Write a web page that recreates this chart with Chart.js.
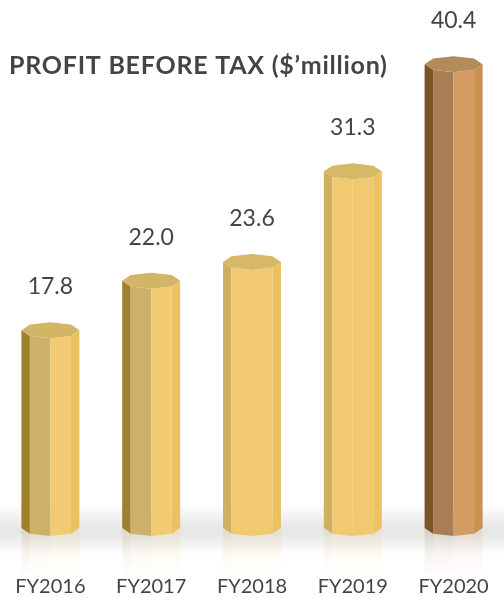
<!DOCTYPE html>
<html>
<head>
<meta charset="utf-8">
<script src="https://cdn.jsdelivr.net/npm/chart.js@4.4.1/dist/chart.umd.min.js"></script>
<style>
    html, body { margin: 0; padding: 0; background: #ffffff; }
    #grafico { display: block; }
</style>
</head>
<body>
<canvas id="grafico" width="504" height="598"></canvas>
<script>
// ========== DATOS ==========
const categorias = ['FY2016', 'FY2017', 'FY2018', 'FY2019', 'FY2020'];
const valores = [17.8, 22.0, 23.6, 31.3, 40.4];
const etiquetasValor = ['17.8', '22.0', '23.6', '31.3', '40.4'];
const titulo = 'PROFIT BEFORE TAX ($\u2019million)';

// ========== ESTILOS ==========
// caras visibles del prisma octogonal (izquierda -> derecha) y la tapa
const carasOro = ['#a0802f', '#cdb06a', '#f2ca72', '#ebc25f'];
const carasOroCentro = ['#cdb064', '#f1c971', '#f1c971', '#eac261'];
const carasCobre = ['#7b5329', '#a97e52', '#d49c62', '#c9914f'];
const caras = [carasOro, carasOro, carasOroCentro, carasOroCentro, carasCobre];
const tapas = ['#d3b566', '#d3b566', '#d6b866', '#d6b866', '#b18b59'];
const COLOR_TEXTO = '#444444';
const RY = 8;

function rgba(hex, a) {
    const n = parseInt(hex.slice(1), 16);
    return 'rgba(' + (n >> 16) + ',' + ((n >> 8) & 255) + ',' + (n & 255) + ',' + a + ')';
}

function punto(cx, cy, r, grados) {
    const t = grados * Math.PI / 180;
    return [cx + r * Math.cos(t), cy + RY * Math.sin(t)];
}

function poligono(ctx, pts, fill) {
    ctx.beginPath();
    ctx.moveTo(pts[0][0], pts[0][1]);
    for (let i = 1; i < pts.length; i++) ctx.lineTo(pts[i][0], pts[i][1]);
    ctx.closePath();
    ctx.fillStyle = fill;
    ctx.fill();
}

// ========== PLUGIN: CILINDROS 3D ==========
const cilindros = {
    id: 'cilindros',
    beforeDatasetsDraw(chart) {
        const ctx = chart.ctx;
        const base = chart.getDatasetMeta(0).data[0].base;
        // sombra difusa bajo las columnas
        ctx.save();
        const g = ctx.createLinearGradient(0, base - 24, 0, base + 26);
        g.addColorStop(0, 'rgba(0,0,0,0)');
        g.addColorStop(0.55, 'rgba(60,60,50,0.13)');
        g.addColorStop(1, 'rgba(0,0,0,0)');
        ctx.fillStyle = g;
        ctx.fillRect(0, base - 24, chart.width, 50);
        ctx.restore();
    },
    afterDatasetsDraw(chart) {
        const ctx = chart.ctx;
        const meta = chart.getDatasetMeta(0);
        ctx.save();
        meta.data.forEach(function(bar, i) {
            const cx = bar.x;
            const r = bar.width / 2;
            const top = bar.y;
            const base = bar.base;
            const col = caras[i];

            // reflejo
            for (let k = 0; k < 4; k++) {
                const a0 = 180 - 45 * k;
                const a1 = a0 - 45;
                const p0 = punto(cx, base, r, a0);
                const p1 = punto(cx, base, r, a1);
                const gr = ctx.createLinearGradient(0, base + 4, 0, base + 50);
                gr.addColorStop(0, rgba(col[k], 0.14));
                gr.addColorStop(1, rgba(col[k], 0));
                poligono(ctx, [p0, p1, [p1[0], p1[1] + 48], [p0[0], p0[1] + 48]], gr);
            }

            // caras
            for (let k = 0; k < 4; k++) {
                const a0 = 180 - 45 * k;
                const a1 = a0 - 45;
                poligono(ctx, [
                    punto(cx, top, r, a0),
                    punto(cx, top, r, a1),
                    punto(cx, base, r, a1),
                    punto(cx, base, r, a0)
                ], col[k]);
            }

            // tapa
            const tapa = [];
            for (let k = 0; k < 8; k++) tapa.push(punto(cx, top, r, k * 45));
            poligono(ctx, tapa, tapas[i]);

            ctx.fillStyle = COLOR_TEXTO;
            ctx.textAlign = 'center';
            ctx.textBaseline = 'alphabetic';

            // valor
            ctx.font = '23px Lato';
            ctx.fillText(etiquetasValor[i], cx, top - 36);

            // categoria
            ctx.font = '20px Lato';
            ctx.fillText(chart.data.labels[i], cx, 593);
        });

        // titulo
        ctx.fillStyle = COLOR_TEXTO;
        ctx.font = 'bold 25px Lato';
        ctx.letterSpacing = '0.75px';
        ctx.textAlign = 'left';
        ctx.fillText(titulo, 9, 74);
        ctx.restore();
    }
};

// ========== GRAFICO ==========
new Chart(document.getElementById('grafico'), {
    type: 'bar',
    data: {
        labels: categorias,
        datasets: [{
            data: valores,
            base: 1,
            backgroundColor: 'rgba(0,0,0,0)',
            borderWidth: 0,
            barThickness: 58
        }]
    },
    options: {
        responsive: false,
        animation: false,
        layout: { padding: { top: 10, bottom: 70, left: 0, right: 0 } },
        plugins: {
            legend: { display: false },
            tooltip: { enabled: false }
        },
        scales: {
            x: { display: false },
            y: {
                display: false,
                min: 1,
                max: 45
            }
        }
    },
    plugins: [cilindros]
});
</script>
</body>
</html>
